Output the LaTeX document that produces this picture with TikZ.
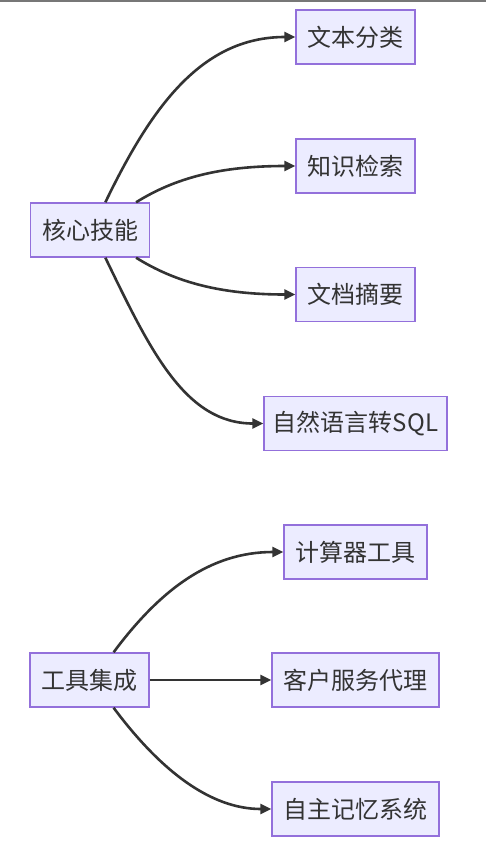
\documentclass[tikz,border=0pt]{standalone}
\usepackage{fontspec}
\setmainfont{Noto Sans CJK SC}
\usetikzlibrary{arrows.meta}
\definecolor{nodeFill}{HTML}{ECECFF}
\definecolor{nodeBorder}{HTML}{9370DB}
\definecolor{edgeDark}{HTML}{333333}
\definecolor{topRule}{HTML}{777777}
\begin{document}
\begin{tikzpicture}[x=1pt,y=-1pt,
    box/.style={draw=nodeBorder,fill=nodeFill,line width=1.4pt,text=edgeDark,
      font=\fontsize{24}{28}\selectfont,minimum height=54pt,inner sep=0pt},
    link/.style={draw=edgeDark,line width=2.6pt,-{Triangle[length=11pt,width=10pt]}}]
    \useasboundingbox (0,0) rectangle (486,846);
    \fill[topRule] (0,0) rectangle (486,1.5);

    % Core skills
    \node[box,minimum width=119pt] (core) at (90,230) {核心技能};
    \node[box,minimum width=119pt] (classify) at (355.5,37) {文本分类};
    \node[box,minimum width=119pt] (retrieve) at (355.5,166) {知识检索};
    \node[box,minimum width=119pt] (summary) at (355.5,294.5) {文档摘要};
    \node[box,minimum width=183pt] (nlsql) at (355.5,423.5) {自然语言转SQL};

    \draw[link] (core.61) .. controls (150,110) and (200,37) .. (classify.west);
    \draw[link] (core.31) .. controls (175,178) and (220,166) .. (retrieve.west);
    \draw[link] (core.-31) .. controls (175,282) and (220,294.5) .. (summary.west);
    \draw[link] (core.-61) .. controls (150,350) and (185,423.5) .. (nlsql.west);

    % Tool integration
    \node[box,minimum width=119pt] (tools) at (89.5,680) {工具集成};
    \node[box,minimum width=143pt] (calc) at (355.5,552) {计算器工具};
    \node[box,minimum width=167pt] (agent) at (355.5,680) {客户服务代理};
    \node[box,minimum width=167pt] (memory) at (355.5,809) {自主记忆系统};

    \draw[link] (tools.49) .. controls (160,590) and (210,552) .. (calc.west);
    \draw[link] (tools.east) -- (agent.west);
    \draw[link] (tools.-49) .. controls (160,770) and (210,809) .. (memory.west);
\end{tikzpicture}
\end{document}
